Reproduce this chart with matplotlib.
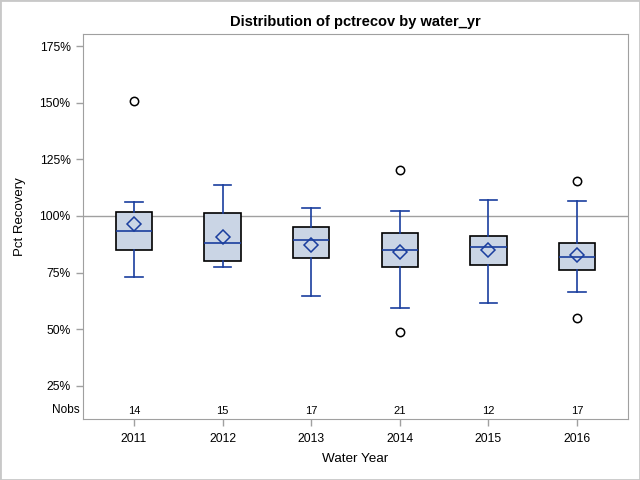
import matplotlib
matplotlib.use("Agg")
import matplotlib.pyplot as plt
from matplotlib.ticker import FuncFormatter
from matplotlib.patches import Rectangle

years = ["2011", "2012", "2013", "2014", "2015", "2016"]
nobs = [14, 15, 17, 21, 12, 17]
whislo = [73.2, 77.6, 64.5, 59.5, 61.7, 66.6]
q1 = [85.1, 80.2, 81.6, 77.6, 78.5, 76.3]
med = [93.5, 88.2, 89.2, 84.9, 86.4, 82.0]
mean = [96.6, 90.8, 87.1, 84.0, 84.9, 82.9]
q3 = [101.9, 101.2, 95.2, 92.6, 91.3, 88.2]
whishi = [106.3, 113.8, 103.6, 102.1, 107.0, 106.5]
outliers = [[150.8], [], [], [120.4, 48.9], [], [115.4, 55.1]]
yticks = [25, 50, 75, 100, 125, 150, 175]

plt.rcParams['font.family'] = ['Liberation Sans', 'DejaVu Sans']

fig = plt.figure(figsize=(6.4, 4.8), dpi=100)
ax = fig.add_axes([83/640, 61/480, 545/640, 385/480])

stats = []
for i in range(len(years)):
    stats.append(dict(label=years[i], whislo=whislo[i], q1=q1[i], med=med[i],
                      mean=mean[i], q3=q3[i], whishi=whishi[i], fliers=outliers[i]))

blue = '#1A3E9E'
ax.axhline(100, color='#A0A0A0', lw=1, zorder=1)
ax.bxp(stats, positions=range(len(years)), widths=0.41, patch_artist=True,
       showmeans=True, showfliers=True,
       boxprops=dict(facecolor='#CAD5E5', edgecolor='black', lw=1.2),
       whiskerprops=dict(color=blue, lw=1.2),
       capprops=dict(color=blue, lw=1.2),
       medianprops=dict(color=blue, lw=1.2),
       meanprops=dict(marker='D', markerfacecolor='none', markeredgecolor=blue,
                      markersize=7, markeredgewidth=1.1),
       flierprops=dict(marker='o', markerfacecolor='none', markeredgecolor='black',
                       markersize=6, markeredgewidth=1.1),
       capwidths=0.2, zorder=2)

ax.set_xlim(-0.575, 5.575)
ax.set_ylim(10.4, 180.3)
ax.set_yticks(yticks)
ax.yaxis.set_major_formatter(FuncFormatter(lambda v, p: f"{int(v)}%"))
ax.set_xticks(range(len(years)))
ax.set_xticklabels(years)

for i, n in enumerate(nobs):
    ax.text(i, 0.009, str(n), transform=ax.get_xaxis_transform(), ha='center',
            va='bottom', fontsize=8, color='black')
ax.text(-0.007, 0.009, "Nobs", transform=ax.transAxes, ha='right', va='bottom',
        fontsize=8.5, color='black')

for s in ax.spines.values():
    s.set_color('#A0A0A0')
ax.tick_params(axis='both', colors='#A0A0A0', labelcolor='black', labelsize=8.7,
               length=5, width=1)
ax.tick_params(axis='x', pad=5)
ax.tick_params(axis='y', pad=4)
ax.set_xlabel("Water Year", fontsize=9.7)
ax.set_ylabel("Pct Recovery", fontsize=9.5)
ax.xaxis.set_label_coords(0.5, -0.088)
ax.yaxis.set_label_coords(-0.104, 0.525)
ax.set_title("Distribution of pctrecov by water_yr", fontsize=10.5,
             fontweight='bold', pad=6)

fig.patches.append(Rectangle((0, 0), 1, 1, transform=fig.transFigure,
                             fill=False, edgecolor='#C8C8C8', lw=2))

fig.savefig("out.png", dpi=100)
